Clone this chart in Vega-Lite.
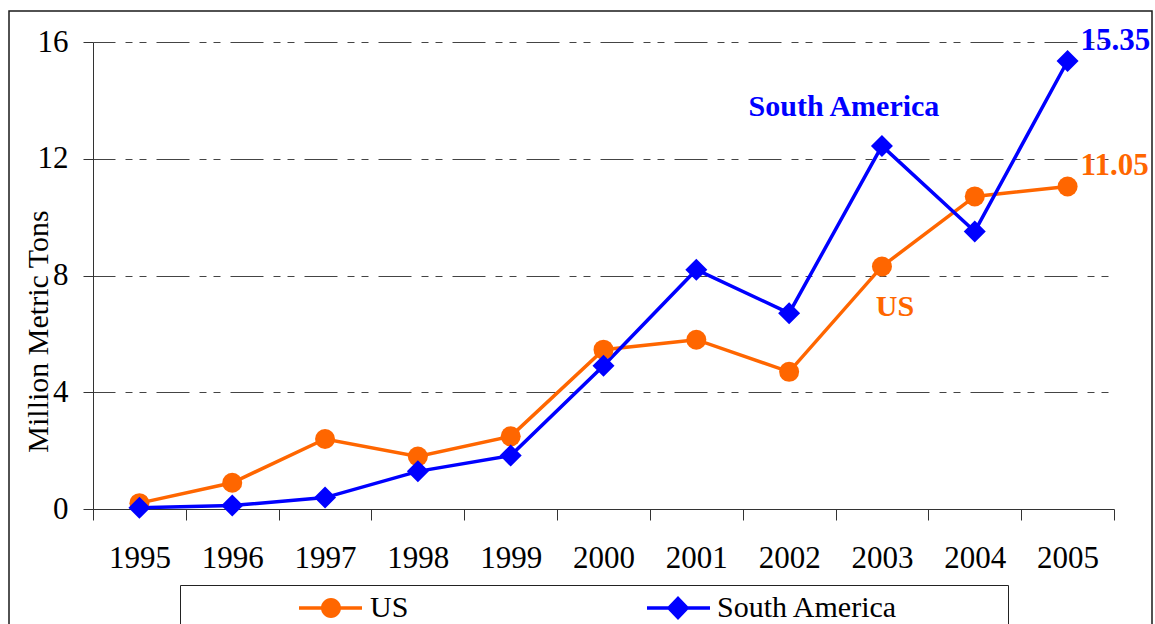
{
  "$schema": "https://vega.github.io/schema/vega-lite/v6.json",
  "width": 1143,
  "height": 616,
  "autosize": {"type": "none"},
  "padding": {"left": 9, "top": 11, "right": 3, "bottom": -3},
  "background": "white",
  "config": {
    "view": {"stroke": "#1a1a1a", "strokeWidth": 1.5},
    "font": "Liberation Serif"
  },
  "data": {
    "values": [
      {"series": "US", "year": "1995", "value": 0.2},
      {"series": "US", "year": "1996", "value": 0.9},
      {"series": "US", "year": "1997", "value": 2.4},
      {"series": "US", "year": "1998", "value": 1.8},
      {"series": "US", "year": "1999", "value": 2.49},
      {"series": "US", "year": "2000", "value": 5.46},
      {"series": "US", "year": "2001", "value": 5.8},
      {"series": "US", "year": "2002", "value": 4.7},
      {"series": "US", "year": "2003", "value": 8.31},
      {"series": "US", "year": "2004", "value": 10.71},
      {"series": "US", "year": "2005", "value": 11.05},
      {"series": "South America", "year": "1995", "value": 0.04},
      {"series": "South America", "year": "1996", "value": 0.12},
      {"series": "South America", "year": "1997", "value": 0.39},
      {"series": "South America", "year": "1998", "value": 1.29},
      {"series": "South America", "year": "1999", "value": 1.83},
      {"series": "South America", "year": "2000", "value": 4.91},
      {"series": "South America", "year": "2001", "value": 8.2},
      {"series": "South America", "year": "2002", "value": 6.71},
      {"series": "South America", "year": "2003", "value": 12.44},
      {"series": "South America", "year": "2004", "value": 9.51},
      {"series": "South America", "year": "2005", "value": 15.35}
    ]
  },
  "encoding": {
    "x": {
      "field": "year",
      "type": "ordinal",
      "scale": {"type": "band", "range": [84, 1105], "paddingInner": 0, "paddingOuter": 0},
      "axis": {
        "title": null,
        "orient": "bottom",
        "offset": -118,
        "tickBand": "extent",
        "tickSize": 11,
        "tickColor": "#333333",
        "tickWidth": 1,
        "domainColor": "#333333",
        "domainWidth": 1,
        "labelFont": "Liberation Serif",
        "labelFontSize": 31,
        "labelColor": "#000000",
        "labelPadding": 23,
        "labelAngle": 0,
        "grid": false
      }
    },
    "y": {
      "field": "value",
      "type": "quantitative",
      "scale": {"domain": [0, 16], "range": [498, 31], "nice": false, "zero": true},
      "axis": {
        "orient": "left",
        "offset": -84,
        "values": [0, 4, 8, 12, 16],
        "tickSize": 10,
        "tickColor": "#333333",
        "domainColor": "#333333",
        "labelFont": "Liberation Serif",
        "labelFontSize": 31,
        "labelColor": "#000000",
        "labelPadding": 15,
        "grid": true,
        "gridColor": "#444444",
        "gridWidth": 1,
        "gridDash": [33, 10, 7, 7, 7, 10],
        "gridDashOffset": 11,
        "title": "Million Metric Tons",
        "titleFont": "Liberation Serif",
        "titleFontSize": 30,
        "titleFontWeight": "normal",
        "titleColor": "#000000",
        "titleAngle": 270,
        "titleAlign": "center",
        "titleBaseline": "alphabetic",
        "titleX": -46,
        "titleY": 320
      }
    },
    "color": {
      "field": "series",
      "type": "nominal",
      "scale": {"domain": ["US", "South America"], "range": ["#FF6600", "#0000FF"]},
      "legend": {
        "orient": "none",
        "legendX": 171,
        "legendY": 574,
        "direction": "horizontal",
        "columns": 2,
        "title": null,
        "padding": 8,
        "strokeColor": "#222222",
        "fillColor": "#ffffff",
        "labelFont": "Liberation Serif",
        "labelFontSize": 30,
        "labelColor": "#000000",
        "labelOffset": 24,
        "labelLimit": 0,
        "symbolOffset": 128,
        "symbolSize": 400,
        "symbolStrokeWidth": 0,
        "columnPadding": 126,
        "encode": {
          "symbols": {
            "update": {
              "shape": {"signal": "datum.value === 'US' ? 'M-14.3,0L-14.2,0ZM-3.2,-0.17H3.1V0.17H-3.2ZM1,0A1,1 0 1,1 -1,0A1,1 0 1,1 1,0Z' : 'M-14.3,0L-14.2,0ZM-3.1,-0.17H3.2V0.17H-3.1ZM0,-1.2L1.15,0L0,1.2L-1.15,0ZM32.1,0L32.2,0Z'"},
              "fill": {"signal": "datum.value === 'US' ? '#FF6600' : '#0000FF'"},
              "size": {"value": 400},
              "strokeWidth": {"value": 0},
              "opacity": {"value": 1},
              "fillOpacity": {"value": 1}
            }
          }
        }
      }
    }
  },
  "layer": [
    {"mark": {"type": "line", "strokeWidth": 3.5}},
    {
      "transform": [{"filter": "datum.series === 'US'"}],
      "mark": {"type": "point", "filled": true, "opacity": 1, "shape": "circle", "size": 400}
    },
    {
      "transform": [{"filter": "datum.series === 'South America'"}],
      "mark": {"type": "point", "filled": true, "opacity": 1, "shape": "diamond", "size": 484}
    },
    {
      "transform": [{"filter": "datum.year === '2005'"}],
      "mark": {"type": "text", "align": "left", "baseline": "middle", "dx": 13, "dy": -20, "fontSize": 31, "fontWeight": "bold", "font": "Liberation Serif"},
      "encoding": {"text": {"field": "value", "type": "quantitative", "format": ".2f"}}
    },
    {
      "transform": [{"filter": "datum.year === '2003' && datum.series === 'South America'"}],
      "mark": {"type": "text", "align": "center", "baseline": "middle", "dx": -38, "dy": -39, "fontSize": 30, "fontWeight": "bold", "font": "Liberation Serif"},
      "encoding": {"text": {"field": "series", "type": "nominal"}}
    },
    {
      "transform": [{"filter": "datum.year === '2003' && datum.series === 'US'"}],
      "mark": {"type": "text", "align": "center", "baseline": "middle", "dx": 13, "dy": 41, "fontSize": 30, "fontWeight": "bold", "font": "Liberation Serif"},
      "encoding": {"text": {"field": "series", "type": "nominal"}}
    }
  ]
}
